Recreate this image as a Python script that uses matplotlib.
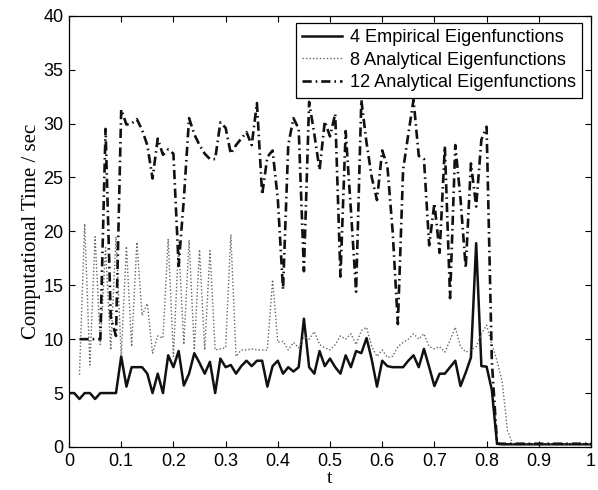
import numpy as np
import matplotlib
matplotlib.use("Agg")
import matplotlib.pyplot as plt

# sampling grid (t = 0, 0.01, ..., 1)
t = np.linspace(0, 1, 101)

empirical_4 = [
    5.0, 5.0, 4.45, 5.0, 5.0, 4.45, 5.0, 5.0, 5.0, 5.0,
    8.4, 5.6, 7.4, 7.4, 7.4, 6.8, 5.0, 6.8, 5.0, 8.5,
    7.4, 8.9, 5.7, 6.8, 8.7, 7.8, 6.8, 7.9, 5.0, 8.2,
    7.4, 7.6, 6.8, 7.5, 8.0, 7.5, 8.0, 8.0, 5.6, 7.5,
    8.0, 6.8, 7.4, 7.0, 7.4, 11.9, 7.4, 6.8, 8.9, 7.5,
    8.2, 7.4, 6.8, 8.5, 7.4, 8.9, 8.7, 10.1, 8.1, 5.6,
    8.0, 7.5, 7.4, 7.4, 7.4, 8.0, 8.5, 7.4, 9.1, 7.4,
    5.65, 6.8, 6.8, 7.4, 8.0, 5.65, 6.9, 8.3, 18.9, 7.5,
    7.45, 5.3, 0.3,
] + [0.25] * 18

analytical_8 = [np.nan, np.nan,
    6.7, 20.7, 7.6, 19.5, 9.5, 18.5, 9.0, 19.5,
    8.4, 18.6, 9.3, 19.0, 12.2, 13.3, 8.7, 10.3, 10.1, 19.3,
    8.4, 19.0, 9.5, 19.2, 9.0, 18.3, 9.0, 18.2, 9.0, 9.1,
    9.2, 19.7, 8.4, 9.0, 9.0, 9.1, 9.0, 9.0, 9.0, 15.5,
    9.7, 9.8, 9.0, 9.7, 9.2, 10.2, 10.0, 10.7, 9.5, 9.2,
    9.0, 9.5, 10.3, 10.0, 10.5, 9.5, 10.8, 11.1, 9.3, 8.4,
    9.0, 8.3, 8.4, 9.3, 9.7, 10.0, 10.5, 10.0, 10.5, 9.3,
    9.1, 9.3, 8.8, 9.9, 11.1, 9.3, 8.8, 9.0, 9.3, 10.5,
    11.3, 9.5, 8.0, 6.0, 1.5,
] + [0.3] * 16

analytical_12 = [np.nan, np.nan,
    10.0, 10.0, 10.0, 10.0, 10.0, 29.5, 12.0, 10.3,
    31.3, 29.9, 30.0, 30.4, 29.4, 28.0, 24.9, 28.6, 27.1, 27.6,
    27.2, 16.8, 23.0, 30.5, 29.0, 28.0, 27.2, 26.7, 26.7, 30.1,
    29.6, 27.2, 28.0, 28.6, 29.2, 28.0, 31.9, 23.4, 26.9, 27.5,
    23.0, 14.6, 28.0, 30.5, 29.5, 16.3, 32.0, 29.0, 25.7, 30.2,
    28.8, 30.9, 15.8, 29.3, 22.0, 14.4, 32.2, 28.2, 25.0, 22.9,
    27.5, 26.0, 20.0, 11.4, 25.7, 29.0, 32.2, 27.0, 26.7, 18.7,
    22.6, 18.0, 27.9, 13.8, 28.0, 23.0, 16.6, 26.3, 22.3, 28.5,
    29.7, 8.0, 0.3,
] + [0.3] * 18

labels = ["4 Empirical Eigenfunctions",
          "8 Analytical Eigenfunctions",
          "12 Analytical Eigenfunctions"]

plt.rcParams["font.family"] = ["Liberation Sans", "DejaVu Sans"]

fig = plt.figure(figsize=(5.98, 4.90), dpi=100)
ax = fig.add_axes([0.1154, 0.0878, 0.8729, 0.8802])

ax.plot(t, empirical_4, color="#111111", linewidth=1.8, linestyle="-",
        label=labels[0])
ax.plot(t, analytical_8, color="#666666", linewidth=1.0,
        linestyle=(0, (1, 1.5)), label=labels[1])
ax.plot(t, analytical_12, color="#111111", linewidth=1.9,
        linestyle=(0, (3.5, 1.5, 0.6, 1.5)), label=labels[2])

ax.set_xlim(0, 1)
ax.set_ylim(0, 40)
ax.set_xticks(np.linspace(0, 1, 11))
ax.set_xticklabels(["0", "0.1", "0.2", "0.3", "0.4", "0.5",
                    "0.6", "0.7", "0.8", "0.9", "1"])
ax.set_yticks(range(0, 41, 5))
ax.tick_params(direction="in", top=True, right=True, labelsize=13,
               length=4, width=0.8, pad=4)
for s in ax.spines.values():
    s.set_linewidth(0.9)

ax.set_xlabel("t", family="Liberation Serif", fontsize=14, labelpad=0)
ax.set_ylabel("Computational Time / sec", family="Liberation Serif",
              fontsize=15, labelpad=2)

leg = ax.legend(loc="upper right", bbox_to_anchor=(0.983, 0.983),
                fontsize=13.1, fancybox=False, framealpha=1,
                edgecolor="black", handlelength=2.2, borderpad=0.35,
                labelspacing=0.3, handletextpad=0.4, borderaxespad=0)
leg.get_frame().set_linewidth(0.9)

fig.savefig("out.png", dpi=100)
